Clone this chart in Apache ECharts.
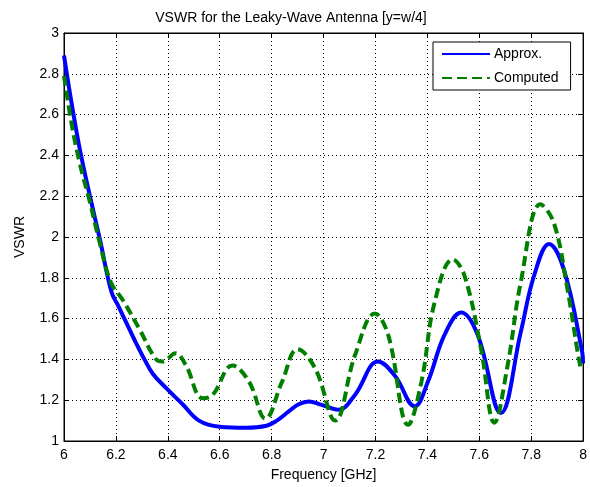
<!DOCTYPE html>
<html>
<head>
<meta charset="utf-8">
<script src="https://cdn.jsdelivr.net/npm/echarts@6/dist/echarts.min.js"></script>
<style>
html, body { margin: 0; padding: 0; background: #fff; }
#chart { width: 590px; height: 487px; }
</style>
</head>
<body>
<div id="chart"></div>
<script>
// values
var approxFreq = [6.00, 6.03, 6.061, 6.10, 6.138, 6.183, 6.21, 6.24, 6.27, 6.31, 6.342, 6.393, 6.457, 6.52, 6.60, 6.70, 6.78, 6.82, 6.866, 6.904, 6.943, 6.993, 7.057, 7.121, 7.21, 7.275, 7.351, 7.402, 7.466, 7.53, 7.594, 7.683, 7.76, 7.811, 7.869, 7.926, 7.996, 8.00];
var approxVswr = [2.89, 2.65, 2.43, 2.20, 1.99, 1.73, 1.66, 1.58, 1.50, 1.40, 1.33, 1.26, 1.18, 1.10, 1.07, 1.065, 1.075, 1.10, 1.145, 1.18, 1.194, 1.177, 1.153, 1.226, 1.39, 1.32, 1.17, 1.29, 1.52, 1.63, 1.52, 1.137, 1.535, 1.81, 1.966, 1.84, 1.44, 1.38];

var computedFreq = [6.00, 6.03, 6.061, 6.10, 6.138, 6.18, 6.227, 6.29, 6.355, 6.38, 6.43, 6.47, 6.534, 6.572, 6.649, 6.713, 6.776, 6.84, 6.90, 6.968, 7.045, 7.121, 7.198, 7.249, 7.326, 7.377, 7.428, 7.498, 7.543, 7.607, 7.658, 7.709, 7.76, 7.836, 7.887, 7.939, 7.99, 8.00];
var computedVswr = [2.79, 2.55, 2.36, 2.17, 1.97, 1.78, 1.69, 1.55, 1.40, 1.39, 1.43, 1.37, 1.21, 1.225, 1.37, 1.29, 1.11, 1.29, 1.45, 1.355, 1.10, 1.42, 1.625, 1.52, 1.08, 1.29, 1.68, 1.89, 1.81, 1.45, 1.09, 1.37, 1.78, 2.16, 2.07, 1.75, 1.36, 1.35];

function pairs(xs, ys) {
	var out = [];
	for (var i = 0; i < xs.length; i++) {
		out.push([xs[i], ys[i]]);
	}
	return out;
}

var font = "Liberation Sans, Arial, sans-serif";
var chart = echarts.init(document.getElementById("chart"));

var boxAxis = {
	axisLine: { show: true, lineStyle: { color: "#000", width: 1 } },
	axisTick: { show: true, inside: true, length: 5, lineStyle: { color: "#000" } },
	axisLabel: { show: false },
	splitLine: { show: false }
};

chart.setOption({
	backgroundColor: "#fff",
	animation: false,
	title: {
		text: "VSWR for the Leaky-Wave Antenna [y=w/4]",
		left: 286,
		top: 6,
		textAlign: "center",
		textStyle: { fontFamily: font, fontSize: 14, fontWeight: "normal", color: "#000" }
	},
	grid: { left: 64, right: 4, top: 33, bottom: 44, show: true, borderColor: "#000", borderWidth: 1 },
	legend: {
		orient: "vertical",
		left: 433,
		top: 42,
		width: 141,
		padding: [5, 12, 5, 8],
		itemWidth: 48,
		itemHeight: 14,
		itemGap: 10,
		borderColor: "#000",
		borderWidth: 1,
		backgroundColor: "#fff",
		itemStyle: { opacity: 0 },
		textStyle: { fontFamily: font, fontSize: 14, color: "#000", padding: [0, 0, 0, -1] },
		data: ["Approx.", "Computed"]
	},
	xAxis: [{
		type: "value",
		min: 6,
		max: 8,
		interval: 0.2,
		name: "Frequency [GHz]",
		nameLocation: "middle",
		nameGap: 27,
		nameTextStyle: { fontFamily: font, fontSize: 14, color: "#000" },
		axisLine: { show: true, onZero: false, lineStyle: { color: "#000" } },
		axisTick: { inside: true, length: 5, lineStyle: { color: "#000" } },
		axisLabel: { fontFamily: font, fontSize: 14, color: "#000", margin: 7 },
		splitLine: { show: true, lineStyle: { color: "#000", type: [1, 3], width: 1 } }
	}, Object.assign({ type: "value", position: "top", min: 6, max: 8, interval: 0.2 }, boxAxis)],
	yAxis: [{
		type: "value",
		min: 1,
		max: 3,
		interval: 0.2,
		name: "VSWR",
		nameLocation: "middle",
		nameGap: 37,
		nameTextStyle: { fontFamily: font, fontSize: 14, color: "#000" },
		axisLine: { show: true, onZero: false, lineStyle: { color: "#000" } },
		axisTick: { inside: true, length: 5, lineStyle: { color: "#000" } },
		axisLabel: { fontFamily: font, fontSize: 14, color: "#000", margin: 5 },
		splitLine: { show: true, lineStyle: { color: "#000", type: [1, 3], width: 1 } }
	}, Object.assign({ type: "value", position: "right", min: 1, max: 3, interval: 0.2 }, boxAxis)],
	series: [{
		name: "Approx.",
		type: "line",
		symbol: "none",
		smooth: 0.4,
		data: pairs(approxFreq, approxVswr),
		lineStyle: { color: "#0000ff", width: 4 },
		itemStyle: { color: "#0000ff" }
	}, {
		name: "Computed",
		type: "line",
		symbol: "none",
		smooth: 0.4,
		data: pairs(computedFreq, computedVswr),
		lineStyle: { color: "#007f00", width: 4, type: [10, 5] },
		itemStyle: { color: "#007f00" }
	}]
});
</script>
</body>
</html>
